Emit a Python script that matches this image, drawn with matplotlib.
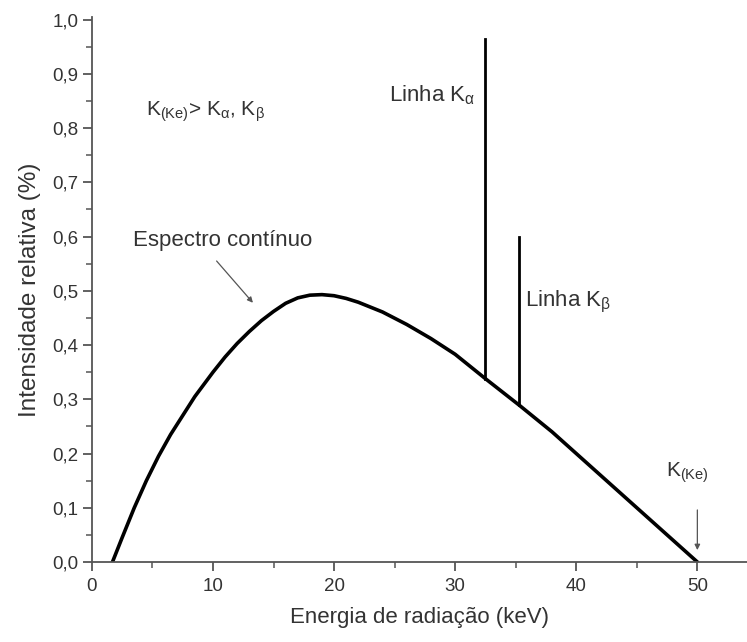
import matplotlib
matplotlib.use("Agg")
import matplotlib.pyplot as plt
from matplotlib.ticker import MultipleLocator, FuncFormatter

plt.rcParams['font.family'] = ['Liberation Sans', 'DejaVu Sans']
plt.rcParams['mathtext.fontset'] = 'custom'
plt.rcParams['mathtext.rm'] = 'Liberation Sans'
plt.rcParams['mathtext.it'] = 'Liberation Sans'

# continuous spectrum (keV, relative intensity)
energy = [1.7, 2.5, 3.5, 4.5, 5.5, 6.5, 7.5, 8.5, 10, 11, 12, 13, 14, 15, 16, 17, 18, 19,
          20, 21, 22, 24, 26, 28, 30, 32.5, 35.3, 38, 41, 44, 47, 50]
intensity = [0.0, 0.045, 0.10, 0.15, 0.195, 0.235, 0.27, 0.305, 0.35, 0.378, 0.403, 0.425,
             0.445, 0.462, 0.477, 0.487, 0.492, 0.493, 0.491, 0.486, 0.479, 0.461, 0.438,
             0.412, 0.383, 0.338, 0.289, 0.24, 0.18, 0.12, 0.06, 0.0]

# characteristic lines: energy, base, top
line_energy = [32.5, 35.3]
line_base = [0.338, 0.289]
line_top = [0.965, 0.60]

fig = plt.figure(figsize=(7.47, 6.42), dpi=100)
ax = fig.add_axes([0.123, 0.1246, 0.877, 0.849])

grey = '#333333'
ax.plot(energy, intensity, color='black', lw=2.6, solid_capstyle='round',
        solid_joinstyle='round')
for e, b, t in zip(line_energy, line_base, line_top):
    ax.plot([e, e], [b, t], color='black', lw=2.0)

ax.set_xlim(0, 54.1)
ax.set_ylim(0, 1.005)
ax.spines['top'].set_visible(False)
ax.spines['right'].set_visible(False)
for s in ['left', 'bottom']:
    ax.spines[s].set_color('#555555')
    ax.spines[s].set_linewidth(1.3)

ax.xaxis.set_major_locator(MultipleLocator(10))
ax.xaxis.set_minor_locator(MultipleLocator(5))
ax.yaxis.set_major_locator(MultipleLocator(0.1))
ax.yaxis.set_minor_locator(MultipleLocator(0.05))
ax.yaxis.set_major_formatter(FuncFormatter(lambda v, p: f"{v:.1f}".replace('.', ',')))
ax.tick_params(which='major', length=6.5, width=1.3, color='#555555', labelsize=13.5,
               labelcolor=grey)
ax.tick_params(which='minor', length=4, width=1.1, color='#555555')
ax.tick_params(axis='x', which='major', pad=5)
ax.tick_params(axis='y', which='major', pad=3)

ax.set_xlabel('Energia de radiação (keV)', fontsize=16, color=grey, labelpad=9)
ax.set_ylabel('Intensidade relativa (%)', fontsize=17.5, color=grey, labelpad=8)

ax.text(4.5, 0.83, r'K$_{\mathregular{(Ke)}}$> K$_{\mathregular{α}}$, K$_{\mathregular{β}}$',
        fontsize=15, color=grey, ha='left', va='center')
ax.text(24.5, 0.86, r'Linha K$_{\mathregular{α}}$', fontsize=16, color=grey, ha='left',
        va='center')
ax.text(35.8, 0.48, r'Linha K$_{\mathregular{β}}$', fontsize=16, color=grey, ha='left',
        va='center')
ax.text(3.4, 0.592, 'Espectro contínuo', fontsize=16, color=grey, ha='left', va='center')
ax.annotate('', xy=(13.3, 0.478), xytext=(10.3, 0.555),
            arrowprops=dict(arrowstyle='-|>', color='#555555', lw=0.9,
                            shrinkA=0, shrinkB=0, mutation_scale=8))
ax.annotate('', xy=(50, 0.022), xytext=(50, 0.096),
            arrowprops=dict(arrowstyle='-|>', color='#555555', lw=0.9,
                            shrinkA=0, shrinkB=0, mutation_scale=8))
ax.text(47.4, 0.165, r'K$_{\mathregular{(Ke)}}$', fontsize=15, color=grey, ha='left',
        va='center')

fig.savefig('out.png', dpi=100)
